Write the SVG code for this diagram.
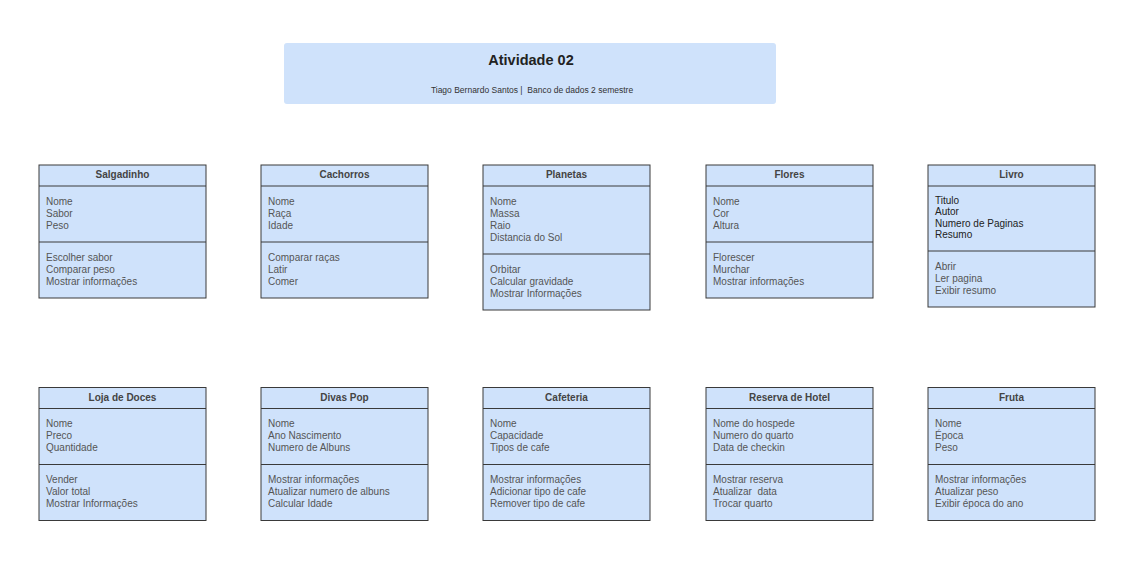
<svg xmlns="http://www.w3.org/2000/svg" width="1138" height="563" viewBox="0 0 1138 563">
<style>
.box{fill:#cfe2fb;stroke:#3a3a3a;stroke-width:1}
.ln{stroke:#3a3a3a;stroke-width:1}
.hd{font-family:"Liberation Sans",Arial,sans-serif;font-size:10px;font-weight:bold;fill:#444;text-anchor:middle}
.tx{font-family:"Liberation Sans",Arial,sans-serif;font-size:10px;fill:#555}
.dk{fill:#222}
.title{font-family:"Liberation Sans",Arial,sans-serif;font-size:14.5px;font-weight:bold;fill:#222;text-anchor:middle}
.sub{font-family:"Liberation Sans",Arial,sans-serif;font-size:8.5px;fill:#333;text-anchor:middle}
</style>
<rect width="1138" height="563" fill="#ffffff"/>
<g id="titulo">
<rect x="284" y="43" width="492" height="61" rx="3" fill="#cfe2fb"/>
<text class="title" x="531" y="65">Atividade 02</text>
<text class="sub" x="532" y="93" xml:space="preserve">Tiago Bernardo Santos |  Banco de dados 2 semestre</text>
</g>
<g id="salgadinho">
<rect class="box" x="39" y="165" width="167" height="133"/>
<line class="ln" x1="39" y1="186" x2="206" y2="186"/>
<line class="ln" x1="39" y1="242" x2="206" y2="242"/>
<text class="hd" x="122.5" y="178">Salgadinho</text>
<text class="tx" x="46" y="204.5">Nome</text>
<text class="tx" x="46" y="216.5">Sabor</text>
<text class="tx" x="46" y="228.5">Peso</text>
<text class="tx" x="46" y="260.5">Escolher sabor</text>
<text class="tx" x="46" y="272.5">Comparar peso</text>
<text class="tx" x="46" y="284.5">Mostrar informações</text>
</g>
<g id="cachorros">
<rect class="box" x="261" y="165" width="167" height="133"/>
<line class="ln" x1="261" y1="186" x2="428" y2="186"/>
<line class="ln" x1="261" y1="242" x2="428" y2="242"/>
<text class="hd" x="344.5" y="178">Cachorros</text>
<text class="tx" x="268" y="204.5">Nome</text>
<text class="tx" x="268" y="216.5">Raça</text>
<text class="tx" x="268" y="228.5">Idade</text>
<text class="tx" x="268" y="260.5">Comparar raças</text>
<text class="tx" x="268" y="272.5">Latir</text>
<text class="tx" x="268" y="284.5">Comer</text>
</g>
<g id="planetas">
<rect class="box" x="483" y="165" width="167" height="145"/>
<line class="ln" x1="483" y1="186" x2="650" y2="186"/>
<line class="ln" x1="483" y1="254" x2="650" y2="254"/>
<text class="hd" x="566.5" y="178">Planetas</text>
<text class="tx" x="490" y="204.5">Nome</text>
<text class="tx" x="490" y="216.5">Massa</text>
<text class="tx" x="490" y="228.5">Raio</text>
<text class="tx" x="490" y="240.5">Distancia do Sol</text>
<text class="tx" x="490" y="272.5">Orbitar</text>
<text class="tx" x="490" y="284.5">Calcular gravidade</text>
<text class="tx" x="490" y="296.5">Mostrar Informações</text>
</g>
<g id="flores">
<rect class="box" x="706" y="165" width="167" height="133"/>
<line class="ln" x1="706" y1="186" x2="873" y2="186"/>
<line class="ln" x1="706" y1="242" x2="873" y2="242"/>
<text class="hd" x="789.5" y="178">Flores</text>
<text class="tx" x="713" y="204.5">Nome</text>
<text class="tx" x="713" y="216.5">Cor</text>
<text class="tx" x="713" y="228.5">Altura</text>
<text class="tx" x="713" y="260.5">Florescer</text>
<text class="tx" x="713" y="272.5">Murchar</text>
<text class="tx" x="713" y="284.5">Mostrar informações</text>
</g>
<g id="livro">
<rect class="box" x="928" y="165" width="167" height="142"/>
<line class="ln" x1="928" y1="186" x2="1095" y2="186"/>
<line class="ln" x1="928" y1="251" x2="1095" y2="251"/>
<text class="hd" x="1011.5" y="178">Livro</text>
<text class="tx dk" x="935" y="203.5" font-size="9">Titulo</text>
<text class="tx dk" x="935" y="215" font-size="9">Autor</text>
<text class="tx dk" x="935" y="226.5" font-size="9">Numero de Paginas</text>
<text class="tx dk" x="935" y="238" font-size="9">Resumo</text>
<text class="tx" x="935" y="269.5">Abrir</text>
<text class="tx" x="935" y="281.5">Ler pagina</text>
<text class="tx" x="935" y="293.5">Exibir resumo</text>
</g>
<g id="loja-de-doces">
<rect class="box" x="39" y="387.5" width="167" height="133"/>
<line class="ln" x1="39" y1="408.5" x2="206" y2="408.5"/>
<line class="ln" x1="39" y1="464.5" x2="206" y2="464.5"/>
<text class="hd" x="122.5" y="400.5">Loja de Doces</text>
<text class="tx" x="46" y="427">Nome</text>
<text class="tx" x="46" y="439">Preco</text>
<text class="tx" x="46" y="451">Quantidade</text>
<text class="tx" x="46" y="483">Vender</text>
<text class="tx" x="46" y="495">Valor total</text>
<text class="tx" x="46" y="507">Mostrar Informações</text>
</g>
<g id="divas-pop">
<rect class="box" x="261" y="387.5" width="167" height="133"/>
<line class="ln" x1="261" y1="408.5" x2="428" y2="408.5"/>
<line class="ln" x1="261" y1="464.5" x2="428" y2="464.5"/>
<text class="hd" x="344.5" y="400.5">Divas Pop</text>
<text class="tx" x="268" y="427">Nome</text>
<text class="tx" x="268" y="439">Ano Nascimento</text>
<text class="tx" x="268" y="451">Numero de Albuns</text>
<text class="tx" x="268" y="483">Mostrar informações</text>
<text class="tx" x="268" y="495">Atualizar numero de albuns</text>
<text class="tx" x="268" y="507">Calcular Idade</text>
</g>
<g id="cafeteria">
<rect class="box" x="483" y="387.5" width="167" height="133"/>
<line class="ln" x1="483" y1="408.5" x2="650" y2="408.5"/>
<line class="ln" x1="483" y1="464.5" x2="650" y2="464.5"/>
<text class="hd" x="566.5" y="400.5">Cafeteria</text>
<text class="tx" x="490" y="427">Nome</text>
<text class="tx" x="490" y="439">Capacidade</text>
<text class="tx" x="490" y="451">Tipos de cafe</text>
<text class="tx" x="490" y="483">Mostrar informações</text>
<text class="tx" x="490" y="495">Adicionar tipo de cafe</text>
<text class="tx" x="490" y="507">Remover tipo de cafe</text>
</g>
<g id="reserva-de-hotel">
<rect class="box" x="706" y="387.5" width="167" height="133"/>
<line class="ln" x1="706" y1="408.5" x2="873" y2="408.5"/>
<line class="ln" x1="706" y1="464.5" x2="873" y2="464.5"/>
<text class="hd" x="789.5" y="400.5">Reserva de Hotel</text>
<text class="tx" x="713" y="427">Nome do hospede</text>
<text class="tx" x="713" y="439">Numero do quarto</text>
<text class="tx" x="713" y="451">Data de checkin</text>
<text class="tx" x="713" y="483">Mostrar reserva</text>
<text class="tx" x="713" y="495" xml:space="preserve">Atualizar  data</text>
<text class="tx" x="713" y="507">Trocar quarto</text>
</g>
<g id="fruta">
<rect class="box" x="928" y="387.5" width="167" height="133"/>
<line class="ln" x1="928" y1="408.5" x2="1095" y2="408.5"/>
<line class="ln" x1="928" y1="464.5" x2="1095" y2="464.5"/>
<text class="hd" x="1011.5" y="400.5">Fruta</text>
<text class="tx" x="935" y="427">Nome</text>
<text class="tx" x="935" y="439">Época</text>
<text class="tx" x="935" y="451">Peso</text>
<text class="tx" x="935" y="483">Mostrar informações</text>
<text class="tx" x="935" y="495">Atualizar peso</text>
<text class="tx" x="935" y="507">Exibir época do ano</text>
</g>
<g id="connectors"></g>
</svg>
